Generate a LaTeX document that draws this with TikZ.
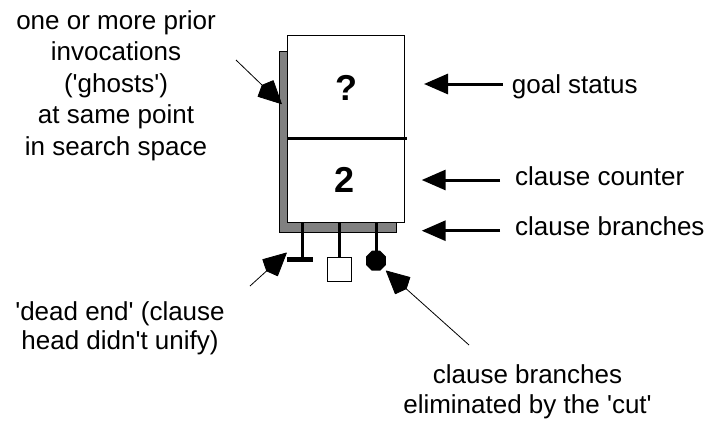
\documentclass[tikz,border=0pt]{standalone}
\usepackage{fontspec}
\setmainfont{Liberation Sans}
\usetikzlibrary{arrows.meta,shapes.geometric}
\definecolor{shadowgray}{RGB}{128,128,128}
\begin{document}
\begin{tikzpicture}[x=1pt,y=-1pt,
  lbl/.style={font=\fontsize{26}{31.5}\selectfont, inner sep=0pt},
  bignum/.style={font=\fontsize{36}{36}\selectfont\bfseries, inner sep=0pt},
  fatarrow/.style={line width=3pt,-{Triangle[length=24pt,width=20pt]}},
  thinarrow/.style={line width=0.8pt,-{Kite[length=28pt,width=23pt,inset=5pt,round]}},
  stem/.style={line width=3pt},
]
\useasboundingbox (0,0) rectangle (710,421);

% shadow and box
\node[draw=black, line width=0.6pt, fill=shadowgray, minimum width=117pt, minimum height=181pt, inner sep=0pt] (shadow) at (337.5,141.5) {};
\node[draw=black, line width=0.9pt, fill=white, minimum width=117pt, minimum height=187pt, inner sep=0pt] (box) at (345.8,128.8) {};
\coordinate (dl) at (287.3,138.3);
\coordinate (dr) at (406.7,138.3);
\draw[line width=2.5pt] (dl) -- (dr);
\node[bignum] (q) at (346.7,87.7) {?};
\node[bignum] (cnt) at (345,180) {2};

% clause branches
\coordinate (s1) at (302.3,222.3);
\coordinate (s2) at (339.3,222.3);
\coordinate (s3) at (376,222.3);
\node[fill=black, minimum width=26pt, minimum height=5pt, inner sep=0pt] (dead) at (300.3,259.8) {};
\node[draw=black, fill=white, line width=0.8pt, minimum size=24pt, inner sep=0pt] (sq) at (339.3,269.2) {};
\node[regular polygon, regular polygon sides=8, fill=black, minimum size=21.6pt, inner sep=0pt] (oct) at (376,260.7) {};
\draw[stem] (s1) -- (s1 |- dead.center);
\draw[stem] (s2) -- (sq.north);
\draw[stem] (s3) -- (oct.center);

% labels (anchor=base is the baseline of the last line)
\node[lbl, align=center, anchor=base] (ghosts) at (116,155) {one or more prior\\invocations\\(\textquotesingle ghosts\textquotesingle)\\at same point\\in search space};
\node[lbl, anchor=base west] (goal) at (511.7,93) {goal status};
\node[lbl, anchor=base west] (counter) at (515,185) {clause counter};
\node[lbl, anchor=base west] (branches) at (515,235) {clause branches};
\node[lbl, align=center, anchor=base, font=\fontsize{26}{29}\selectfont] (deadlbl) at (120,349) {\textquotesingle dead end\textquotesingle{} (clause\\head didn\textquotesingle t unify)};
\node[lbl, align=center, anchor=base, font=\fontsize{26}{30}\selectfont] (cutlbl) at (527.5,413) {clause branches\\eliminated by the \textquotesingle cut\textquotesingle};

% arrows
\coordinate (g0) at (502.7,84);   \coordinate (g1) at (424,84);
\coordinate (c0) at (500,180);    \coordinate (c1) at (421.7,180);
\coordinate (b0) at (500,230.7);  \coordinate (b1) at (421.7,230.7);
\coordinate (h0) at (236,60);     \coordinate (h1) at (281.7,104);
\coordinate (d0) at (250,286);    \coordinate (d1) at (286.7,252.7);
\coordinate (x0) at (469,345);    \coordinate (x1) at (386,270.7);
\draw[fatarrow] (g0) -- (g1);
\draw[fatarrow] (c0) -- (c1);
\draw[fatarrow] (b0) -- (b1);
\draw[thinarrow] (h0) -- (h1);
\draw[thinarrow] (d0) -- (d1);
\draw[thinarrow] (x0) -- (x1);
\end{tikzpicture}
\end{document}
